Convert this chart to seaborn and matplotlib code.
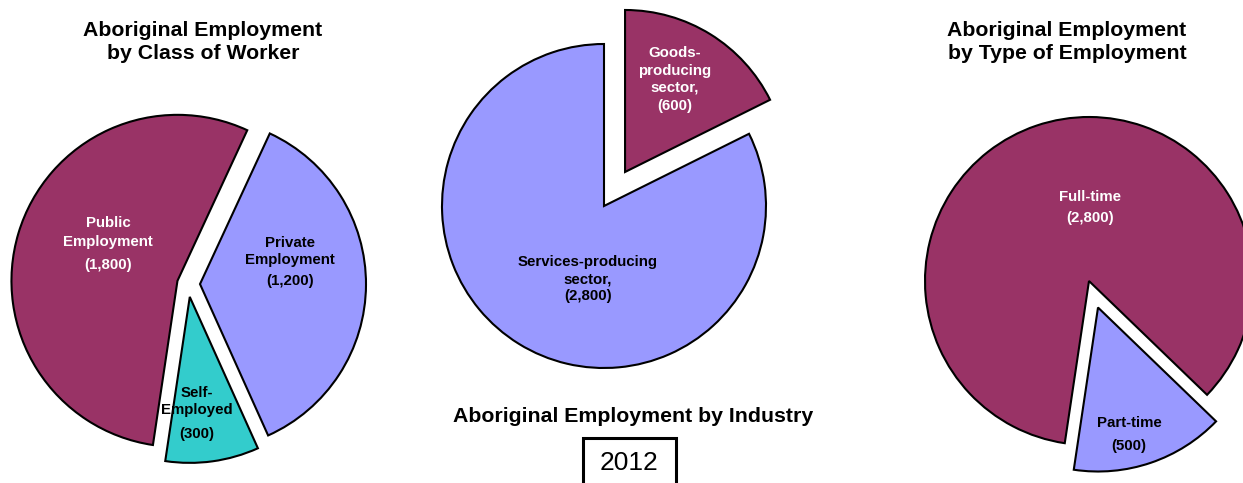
import matplotlib
matplotlib.use("Agg")
import matplotlib.pyplot as plt
from matplotlib.patches import Rectangle
import seaborn as sns

# ---- data -------------------------------------------------------------
class_names = ["Public\nEmployment", "Private\nEmployment", "Self-\nEmployed"]
class_values = [1800, 1200, 300]

industry_names = ["Goods-\nproducing\nsector,", "Services-producing\nsector,"]
industry_values = [600, 2800]

type_names = ["Full-time", "Part-time"]
type_values = [2800, 500]

year = "2012"

titles = [
    "Aboriginal Employment\nby Class of Worker",
    "Aboriginal Employment by Industry",
    "Aboriginal Employment\nby Type of Employment",
]

# ---- style ------------------------------------------------------------
sns.set_theme(style="white")
plt.rcParams["font.family"] = ["Liberation Sans", "DejaVu Sans"]

PLUM, PERI, AQUA = "#993366", "#9999FF", "#33CCCC"
W, H = 1243, 483


def sy(y):
    """Convert a top-down pixel row to the axes' bottom-up coordinate."""
    return H - y


fig = plt.figure(figsize=(W / 100, H / 100), dpi=100)
ax = fig.add_axes([0, 0, 1, 1])

wedge_style = dict(edgecolor="black", linewidth=1.5)


def draw_pie(values, colors, explode, start, center, radius):
    # explode offsets are in pixel units of this full-figure axes
    ax.pie(values, colors=colors, explode=explode, startangle=start,
           counterclock=False, center=(center[0], sy(center[1])),
           radius=radius, wedgeprops=wedge_style)


def draw_label(name, value, x, line_ys, value_y, color):
    for line, y in zip(name.split("\n"), line_ys):
        ax.text(x, sy(y), line, ha="center", va="center", fontsize=10.8,
                fontweight="bold", color=color, zorder=5)
    ax.text(x, sy(value_y), f"({value:,})", ha="center", va="center",
            fontsize=10.8, fontweight="bold", color=color, zorder=5)


# Class of worker
draw_pie(class_values, [PLUM, PERI, AQUA], [11, 12, 13],
         -98.5, (188, 284), 166)
draw_label(class_names[0], class_values[0], 108, [223, 242], 265, "white")
draw_label(class_names[1], class_values[1], 290, [243, 260], 281, "black")
draw_label(class_names[2], class_values[2], 197, [393, 410], 434, "black")

# Industry
draw_pie(industry_values, [PLUM, PERI], [40, 0],
         90, (604, 206), 162)
draw_label(industry_names[0], industry_values[0], 675, [53, 71, 88], 106, "white")
draw_label(industry_names[1], industry_values[1], 588, [262, 279], 296, "black")

# Type of employment
draw_pie(type_values, [PLUM, PERI], [0, 28],
         -98.5, (1089, 281), 164)
draw_label(type_names[0], type_values[0], 1090, [197], 218, "white")
draw_label(type_names[1], type_values[1], 1129, [423], 446, "black")

# Titles
title_kw = dict(ha="center", va="center", fontsize=15.3, fontweight="bold",
                color="black", linespacing=1.3)
ax.text(203, sy(42), titles[0], **title_kw)
ax.text(633, sy(416), titles[1], **title_kw)
ax.text(1067, sy(42), titles[2], **title_kw)

# Year box
ax.add_patch(Rectangle((583, sy(495)), 93, 57, facecolor="white",
                       edgecolor="black", linewidth=2.2, zorder=3))
ax.text(629.5, sy(463), year, ha="center", va="center", fontsize=19,
        color="black", zorder=4)

ax.set_xlim(0, W)
ax.set_ylim(0, H)
ax.set_aspect("equal")
ax.axis("off")

fig.savefig("out.png", dpi=100, facecolor="white")
